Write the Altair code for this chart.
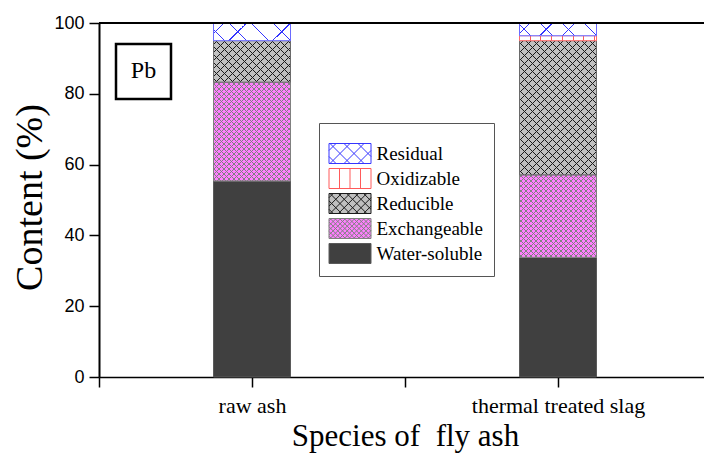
import math
import altair as alt
import pandas as pd

# ---------------- data ----------------
categories = ["raw ash", "thermal treated slag"]
fractions = ["Water-soluble", "Exchangeable", "Reducible", "Oxidizable", "Residual"]
raw_ash = [55.4, 27.9, 11.7, 0.0, 5.0]
thermal_slag = [33.8, 23.3, 37.9, 1.4, 3.6]
series = [raw_ash, thermal_slag]
y_ticks = [0, 20, 40, 60, 80, 100]
x_tick_values = [0.5, 1, 1.5, 2]
element = "Pb"
x_title = "Species of\u00a0 fly ash"
y_title = "Content (%)"

rows = []
for i, (cat, vals) in enumerate(zip(categories, series)):
    base = 0.0
    for frac, v in zip(fractions, vals):
        rows.append({"category": cat, "pos": i + 1, "fraction": frac,
                     "value": v, "y0": round(base, 3), "y1": round(base + v, 3)})
        base += v
df = pd.DataFrame(rows)

# ---------------- layout / style ----------------
W, H = 605, 354
PX_PER_UNIT = 306.0
X_MAX = 0.5 + W / PX_PER_UNIT
BAR_PX = 77
SERIF = "Liberation Serif"
SANS = "Liberation Sans"

legend_order = list(reversed(fractions))
# P: hatch period along x (px), lw: line width along x (px), lp: legend period (symbol units, 1 unit = 10 px)
styles = {
    "Residual": dict(bg="#ffffff", line="#3535ff", P=22, lw=1, lp=1.4, kind="cross", border="#6a6aff"),
    "Oxidizable": dict(bg="#ffffff", line="#ff5a5a", P=10.7, lw=1, lp=1.05, kind="vert", border="#ff6a6a"),
    "Reducible": dict(bg="#c0c0c0", line="#1a1a1a", P=8, lw=1, lp=0.84, kind="cross", border="#6a6a6a"),
    "Exchangeable": dict(bg="#ff80ff", line="#808080", P=5, lw=1, lp=0.47, kind="cross", border="#808080"),
    "Water-soluble": dict(bg="#404040", line="#5a5a5a", P=1, lw=0, lp=0, kind="solid", border="#5a5a5a"),
}
TRANSPARENT = "rgba(0,0,0,0)"


def stops_for(centers, half, line, bg):
    st = [{"offset": 0.0, "color": bg}]
    for c in centers:
        a = round(max(0.0, c - half), 6)
        b = round(min(1.0, c + half), 6)
        if b <= 0 or a >= 1:
            continue
        st += [{"offset": a, "color": bg}, {"offset": a, "color": line},
               {"offset": b, "color": line}, {"offset": b, "color": bg}]
    st.append({"offset": 1.0, "color": bg})
    return st


def diag_gradient(w, h, P, lw, line, bg, flip):
    L = w + h
    s = L / (w * w + h * h)
    a, b = s * w, s * h
    centers = []
    u = P / 2
    while u < L + P:
        centers.append(u / L)
        u += P
    g = {"gradient": "linear", "stops": stops_for(centers, (lw / 2) / L, line, bg)}
    if flip:
        g.update(x1=0, y1=1, x2=round(a, 6), y2=round(1 - b, 6))
    else:
        g.update(x1=0, y1=0, x2=round(a, 6), y2=round(b, 6))
    return g


def vert_gradient(w, P, lw, line, bg):
    centers = []
    x = P
    while x < w - 2:
        centers.append(x / w)
        x += P
    return {"gradient": "linear", "stops": stops_for(centers, (lw / 2) / w, line, bg),
            "x1": 0, "y1": 0, "x2": 1, "y2": 0}


# legend swatch paths (rect -2.1..2.1 x -1..1 plus hatch lines)
RX, RY = 2.1, 1.0


def swatch_path(kind, p):
    d = "M%.2f,%.2fH%.2fV%.2fH%.2fZ" % (-RX, -RY, RX, RY, -RX)
    if kind == "vert":
        x = -RX + p
        while x < RX - 0.2:
            d += "M%.3f,%.3fV%.3f" % (x, -RY, RY)
            x += p
    elif kind == "cross":
        c = -RX - RY + p / 2
        while c < RX + RY:
            x0, x1 = max(-RX, c - RY), min(RX, c + RY)
            if x1 > x0:
                d += "M%.3f,%.3fL%.3f,%.3f" % (x0, c - x0, x1, c - x1)
                d += "M%.3f,%.3fL%.3f,%.3f" % (x0, x0 - c, x1, x1 - c)
            c += p
    return d


X = alt.X("pos:Q",
          scale=alt.Scale(domain=[0.5, X_MAX], nice=False, zero=False, padding=0),
          axis=alt.Axis(values=x_tick_values,
                        labelExpr="datum.value == 1 ? '%s' : datum.value == 2 ? '%s' : ''" % (categories[0], categories[1]),
                        tickSize=10, tickWidth=1.5, tickColor="black",
                        domainColor="black", domainWidth=1.5,
                        labelFont=SERIF, labelFontSize=22, labelColor="black",
                        labelPadding=8, labelFlush=False, labelOverlap=False,
                        grid=False, title=x_title, titleFont=SERIF, titleFontSize=31,
                        titleFontWeight="normal", titleColor="black",
                        titleBaseline="alphabetic", titleY=68, titleX=306))
Y = alt.Y("y0:Q",
          scale=alt.Scale(domain=[0, 100], nice=False, padding=0),
          axis=alt.Axis(values=y_ticks, tickSize=10, tickWidth=1.5, tickColor="black",
                        domainColor="black", domainWidth=2,
                        labelFont=SANS, labelFontSize=18, labelColor="black", labelPadding=5,
                        grid=False, title=y_title, titleFont=SERIF, titleFontSize=38,
                        titleFontWeight="normal", titleColor="black",
                        titleAngle=270, titleAlign="center", titleBaseline="alphabetic",
                        titleX=-58, titleY=174))
Y2 = alt.Y2("y1:Q")

legend = alt.Legend(orient="none", legendX=220, legendY=100,
                    title="\u00a0", titleFontSize=6, titlePadding=4,
                    symbolSize=400, symbolStrokeWidth=1, symbolOpacity=1,
                    symbolOffset=10.5, labelOffset=16,
                    labelFont=SERIF, labelFontSize=19, labelColor="black", labelLimit=300,
                    rowPadding=0, padding=10, strokeColor="#555555", fillColor="white")

fill_scale = alt.Scale(domain=legend_order, range=[styles[f]["bg"] for f in legend_order])
stroke_scale = alt.Scale(domain=legend_order, range=[styles[f]["line"] for f in legend_order])
shape_scale = alt.Scale(domain=legend_order,
                        range=[swatch_path(styles[f]["kind"], styles[f]["lp"]) for f in legend_order])

base = alt.Chart(df).transform_filter("datum.value > 0").mark_bar(size=BAR_PX, strokeWidth=1).encode(
    x=X, y=Y, y2=Y2,
    fill=alt.Fill("fraction:N", scale=fill_scale, legend=legend),
    stroke=alt.Stroke("fraction:N", scale=stroke_scale, legend=legend),
)

# legend carrier: no visible points, only supplies swatch shapes to the merged legend
carrier = alt.Chart(df).transform_filter("false").mark_point(filled=True, size=400, strokeWidth=1, opacity=1).encode(
    x=X, y=Y,
    fill=alt.Fill("fraction:N", scale=fill_scale, legend=legend),
    stroke=alt.Stroke("fraction:N", scale=stroke_scale, legend=legend),
    shape=alt.Shape("fraction:N", scale=shape_scale, legend=legend),
)

layers = [base]
for _, r in df.iterrows():
    st = styles[r["fraction"]]
    if r["value"] <= 0 or st["kind"] == "solid":
        continue
    h = r["value"] * H / 100.0
    flt = "datum.category == '%s' && datum.fraction == '%s'" % (r["category"], r["fraction"])
    if st["kind"] == "vert":
        fills = [vert_gradient(BAR_PX, st["P"], st["lw"], st["line"], st["bg"])]
    else:
        fills = [diag_gradient(BAR_PX, h, st["P"], st["lw"], st["line"], st["bg"], False),
                 diag_gradient(BAR_PX, h, st["P"], st["lw"], st["line"], TRANSPARENT, True)]
    for k, g in enumerate(fills):
        mk = dict(size=BAR_PX, fill=g)
        if k == len(fills) - 1:
            mk.update(stroke=st["border"], strokeWidth=1)
        else:
            mk.update(strokeWidth=0)
        layers.append(alt.Chart(df).transform_filter(flt).mark_bar(**mk).encode(x=X, y=Y, y2=Y2))

top_line = alt.Chart(pd.DataFrame({"v": [y_ticks[-1]]})).mark_rule(color="black", strokeWidth=2).encode(
    y=alt.Y("v:Q", scale=alt.Scale(domain=[0, 100], nice=False)))
layers.append(top_line)

lab = pd.DataFrame({"label": [element]})
box = alt.Chart(lab).mark_rect(filled=False, stroke="black", strokeWidth=2.5).encode(
    x=alt.value(17), x2=alt.value(72), y=alt.value(21), y2=alt.value(76))
txt = alt.Chart(lab).mark_text(font=SERIF, fontSize=24, color="black", align="center", baseline="alphabetic").encode(
    x=alt.value(44.5), y=alt.value(55), text="label:N")
layers += [box, txt, carrier]

chart = alt.layer(*layers).properties(
    width=W, height=H,
    padding={"left": 99, "top": 23, "right": 0, "bottom": 454 - 23 - H},
    autosize=alt.AutoSizeParams(type="none"),
).configure_view(stroke=None).configure(background="white")

chart.save("out.html", embed_options={"renderer": "svg", "actions": False})
